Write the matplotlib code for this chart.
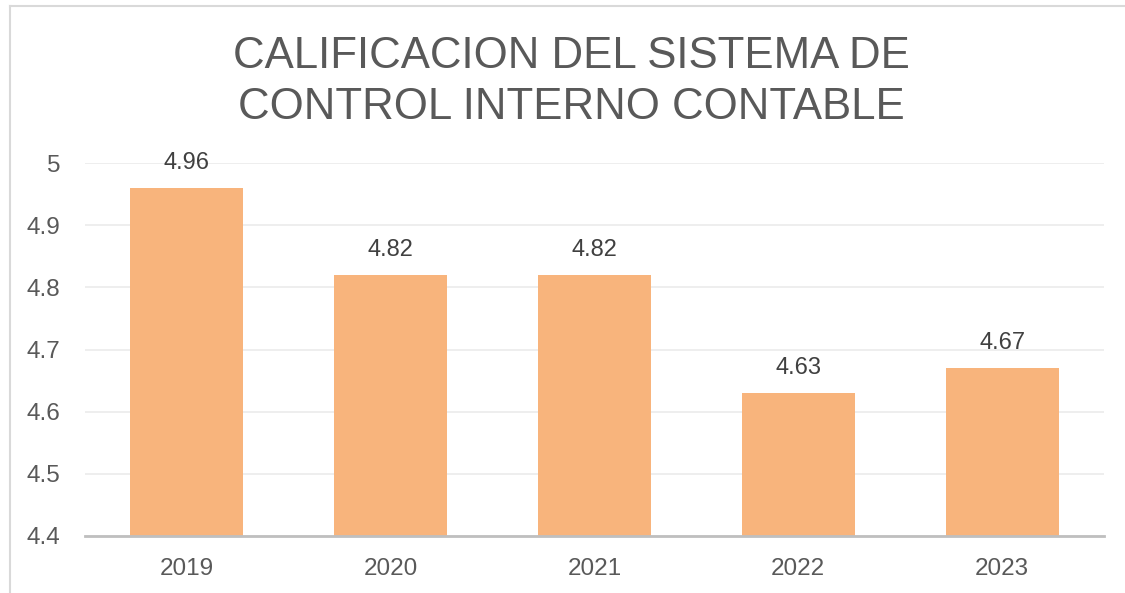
import matplotlib.pyplot as plt
from matplotlib.lines import Line2D

# data
years = ["2019", "2020", "2021", "2022", "2023"]
scores = [4.96, 4.82, 4.82, 4.63, 4.67]
y_ticks = [4.4, 4.5, 4.6, 4.7, 4.8, 4.9, 5.0]
y_tick_labels = ["4.4", "4.5", "4.6", "4.7", "4.8", "4.9", "5"]

BAR_COLOR = "#F8B47C"
TEXT_GRAY = "#595959"

plt.rcParams["font.family"] = ["Liberation Sans", "DejaVu Sans"]

fig = plt.figure(figsize=(11.25, 5.93), dpi=100)
fig.patch.set_facecolor("white")

# outer chart border (left and top visible)
fig.add_artist(Line2D([10 / 1125, 10 / 1125], [0, 1 - 6 / 593],
                      transform=fig.transFigure, color="#D9D9D9", lw=1.5))
fig.add_artist(Line2D([10 / 1125, 1], [1 - 6 / 593, 1 - 6 / 593],
                      transform=fig.transFigure, color="#D9D9D9", lw=1.5))

ax = fig.add_axes([85 / 1125, 1 - 536 / 593, (1104 - 85) / 1125, (536 - 163) / 593])

x = range(len(years))
bars = ax.bar(x, scores, width=0.555, color=BAR_COLOR, zorder=2)

for xi, v in zip(x, scores):
    ax.text(xi, v + 0.022, f"{v:.2f}", ha="center", va="bottom",
            fontsize=17, color="#404040")

ax.set_ylim(4.4, 5.0)
ax.set_xlim(-0.5, len(years) - 0.5)
ax.set_yticks(y_ticks)
ax.set_yticklabels(y_tick_labels)
ax.set_xticks(list(x))
ax.set_xticklabels(years)
ax.tick_params(axis="both", length=0, labelsize=17.5, labelcolor=TEXT_GRAY)
ax.tick_params(axis="x", pad=16)
ax.tick_params(axis="y", pad=18)
ax.grid(axis="y", color="#EBEBEB", lw=1.2, zorder=0)
for name in ["top", "right", "left"]:
    ax.spines[name].set_visible(False)
ax.spines["bottom"].set_color("#BFBFBF")
ax.spines["bottom"].set_linewidth(2)
ax.spines["bottom"].set_zorder(3)

fig.text(0.508, 1 - 82 / 593, "CALIFICACION DEL SISTEMA DE\nCONTROL INTERNO CONTABLE",
         ha="center", va="center", fontsize=31.5, color=TEXT_GRAY, linespacing=1.3)

plt.savefig("out.png", dpi=100, facecolor="white")
